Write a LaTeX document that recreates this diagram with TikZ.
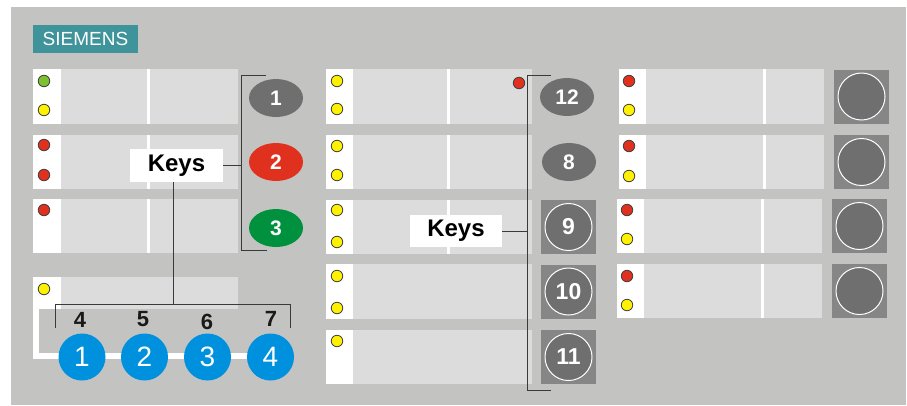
\documentclass[tikz,border=0pt]{standalone}
\usepackage{fontspec}
\setmainfont{Liberation Sans}
\usetikzlibrary{positioning, calc, shapes.geometric}

\definecolor{panel}{HTML}{C3C3C1}
\definecolor{field}{HTML}{DCDCDC}
\definecolor{logoteal}{HTML}{3F939B}
\definecolor{keygray}{HTML}{6F6F6F}
\definecolor{sqgray}{HTML}{868686}
\definecolor{keyred}{HTML}{E0301E}
\definecolor{keygreen}{HTML}{00913F}
\definecolor{keyblue}{HTML}{0091DE}
\definecolor{ledred}{HTML}{E0301E}
\definecolor{ledyellow}{HTML}{FFF200}
\definecolor{ledgreen}{HTML}{7DC030}
\definecolor{wire}{HTML}{3A3A3A}

\tikzset{
    logo/.style={fill=logoteal, text=white, inner sep=0pt, minimum width=105pt, minimum height=28pt, font=\fontsize{19}{19}\selectfont},
    led/.style={circle, draw=black!75, line width=0.8pt, minimum size=11.5pt, inner sep=0pt},
    keyoval/.style={ellipse, fill=keygray, text=white, inner sep=0pt, minimum width=54pt, minimum height=38pt, font=\fontsize{21}{21}\selectfont\bfseries},
    keysq/.style={rectangle, fill=sqgray, inner sep=0pt, minimum width=55pt, minimum height=54pt},
    keycirc/.style={circle, fill=keygray, draw=white, line width=1pt, text=white, inner sep=0pt, minimum size=47pt, font=\fontsize{23}{23}\selectfont\bfseries},
    keyblue/.style={circle, fill=keyblue, text=white, inner sep=0pt, minimum size=47pt, font=\fontsize{28}{28}\selectfont},
    keysbox/.style={fill=white, inner sep=0pt, minimum width=93pt, minimum height=33pt, font=\fontsize{24}{24}\selectfont\bfseries},
    fnum/.style={inner sep=0pt, text=black!90, font=\fontsize{22}{22}\selectfont\bfseries},
    bracket/.style={draw=wire, line width=1pt}
}

\begin{document}
\begin{tikzpicture}[x=1pt, y=-1pt]
    % Frame and logo
    \useasboundingbox (0,0) rectangle (907,405);
    \fill[panel] (11,7) rectangle (906,405);
    \node[logo] (siemens) at (85.5,39) {SIEMENS};

    % Label fields, left column
    \foreach \t/\b in {69/124, 135/189, 199/253} {
        \fill[white] (33,\t) rectangle (61,\b);
        \fill[field] (61,\t) rectangle (238,\b);
        \fill[white] (147,\t) rectangle (150,\b);
    }
    \fill[white] (33,277) rectangle (61,309);
    \fill[field] (61,277) rectangle (238,309);
    \draw[white, line width=6pt] (36,309) -- (36,356) -- (286,356);

    % Label fields, middle column
    \foreach \t/\b in {69/124, 135/189, 200/254} {
        \fill[white] (326,\t) rectangle (353,\b);
        \fill[field] (353,\t) rectangle (532,\b);
        \fill[white] (447,\t) rectangle (450,\b);
    }
    \foreach \t/\b in {264/319, 330/384} {
        \fill[white] (326,\t) rectangle (353,\b);
        \fill[field] (353,\t) rectangle (532,\b);
    }

    % Label fields, right column
    \foreach \t/\b/\d in {69/124/0, 135/189/0, 199/253/-2, 264/318/-2} {
        \fill[white] ({619+\d},\t) rectangle ({646+\d},\b);
        \fill[field] ({646+\d},\t) rectangle ({824+\d},\b);
        \fill[white] ({763+\d},\t) rectangle ({766+\d},\b);
    }

    % LEDs
    \foreach \x/\y/\c [count=\n] in {44/81/ledgreen, 44/110/ledyellow, 44/145/ledred, 44/175/ledred, 44/210/ledred, 44/289/ledyellow,
        337/81/ledyellow, 337/109/ledyellow, 337/146/ledyellow, 337/175/ledyellow, 337/210/ledyellow, 337/242/ledyellow,
        337/276/ledyellow, 337/308/ledyellow, 337/341/ledyellow, 519/83/ledred,
        629/81/ledred, 629/110/ledyellow, 629/146/ledred, 629/176/ledyellow,
        627/210/ledred, 627/239/ledyellow, 627/276/ledred, 627/305/ledyellow}
        \node[led, fill=\c] (led\n) at (\x,\y) {};

    % Keys 1-3
    \node[keyoval] (k1) at (276,98) {1};
    \node[keyoval, fill=keyred] (k2) at (276,162) {2};
    \node[keyoval, fill=keygreen] (k3) at (276,228) {3};

    % Keys 12, 8 and 9-11
    \node[keyoval] (k12) at (567,97) {12};
    \node[keyoval] (k8) at (569,162) {8};
    \node[keysq] (sq9) at (568.5,227) {};
    \node[keycirc] (k9) at (sq9) {9};
    \node[keysq] (sq10) at (568.5,291.5) {};
    \node[keycirc] (k10) at (sq10) {10};
    \node[keysq] (sq11) at (568.5,357) {};
    \node[keycirc] (k11) at (sq11) {11};

    % Keys, right column
    \node[keysq] (sq13) at (861.5,96.5) {};
    \node[keycirc] (k13) at (sq13) {};
    \node[keysq] (sq14) at (861.5,162) {};
    \node[keycirc] (k14) at (sq14) {};
    \node[keysq] (sq15) at (859.5,226) {};
    \node[keycirc] (k15) at (sq15) {};
    \node[keysq] (sq16) at (859.5,291) {};
    \node[keycirc] (k16) at (sq16) {};

    % Function keys 4-7
    \node[fnum] (f4) at (80,320) {4};
    \node[fnum] (f5) at (143,319) {5};
    \node[fnum] (f6) at (207,322) {6};
    \node[fnum] (f7) at (271,319) {7};
    \node[keyblue] (b1) at (82,357) {1};
    \node[keyblue] (b2) at (144.5,357) {2};
    \node[keyblue] (b3) at (207.5,357) {3};
    \node[keyblue] (b4) at (270.5,357) {4};

    % Brackets and "Keys" labels
    \node[keysbox] (keysA) at (176.5,165.5) {Keys};
    \node[keysbox, minimum width=92pt, minimum height=32pt] (keysB) at (456,231) {Keys};

    \coordinate (bA1) at (266,75);
    \coordinate (bA2) at (241,75);
    \coordinate (bA3) at (241,250);
    \coordinate (bA4) at (267,250);
    \draw[bracket] (bA1) -- (bA2) -- (bA3) -- (bA4);
    \draw[bracket] (keysA.east) -- (keysA.east -| bA2);

    \coordinate (bB1) at (55,328);
    \coordinate (bB2) at (55,304);
    \coordinate (bB3) at (290,304);
    \coordinate (bB4) at (290,328);
    \coordinate (bBm) at (173,304);
    \draw[bracket] (bB1) -- (bB2) -- (bB3) -- (bB4);
    \draw[bracket] (keysA.south -| bBm) -- (bBm);

    \coordinate (bC1) at (551,75);
    \coordinate (bC2) at (527,75);
    \coordinate (bC3) at (527,390);
    \coordinate (bC4) at (551,390);
    \draw[bracket] (bC1) -- (bC2) -- (bC3) -- (bC4);
    \draw[bracket] (keysB.east) -- (keysB.east -| bC2);
\end{tikzpicture}
\end{document}
